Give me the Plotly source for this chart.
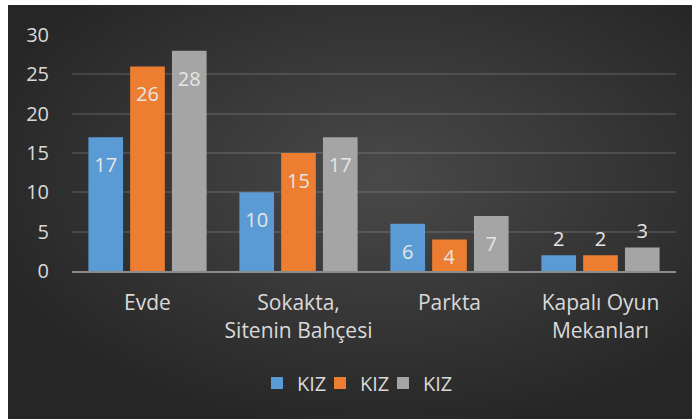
import plotly.graph_objects as go

categories = ["Evde", "Sokakta,<br>Sitenin Bahçesi", "Parkta", "Kapalı Oyun<br>Mekanları"]
series_names = ["KIZ", "KIZ", "KIZ"]
series_a = [17, 10, 6, 2]
series_b = [26, 15, 4, 2]
series_c = [28, 17, 7, 3]
colors = ["#5b9bd5", "#ed7d31", "#a5a5a5"]
y_ticks = [0, 5, 10, 15, 20, 25, 30]

FONT = "Open Sans"
FS = 20
TXT = "#d9d9d9"
LBL = "#e6e6e6"

bg_svg = (
    "data:image/svg+xml;utf8,"
    "<svg xmlns='http://www.w3.org/2000/svg' width='684' height='414' viewBox='0 0 684 414' preserveAspectRatio='none'>"
    "<defs><radialGradient id='g' cx='0.55' cy='0.42' r='0.62' gradientUnits='objectBoundingBox'>"
    "<stop offset='0' stop-color='%23494949'/><stop offset='1' stop-color='%23262626'/>"
    "</radialGradient></defs>"
    "<rect width='684' height='414' fill='url(%23g)'/></svg>"
)


def label_style(vals):
    # tall bars: label a bit below the top; short bars: label at/above the top
    tmpl = ["<span style='font-size:6px'> </span><br>%{y}" if v >= 5 else "%{y}" for v in vals]
    pos = ["inside" if v >= 4 else "outside" for v in vals]
    return tmpl, pos


fig = go.Figure()
for name, vals, col in zip(series_names, [series_a, series_b, series_c], colors):
    tmpl, pos = label_style(vals)
    fig.add_trace(go.Bar(
        x=categories, y=vals, name=name,
        marker=dict(color=col, line=dict(width=0)),
        texttemplate=tmpl,
        textposition=pos,
        insidetextanchor="end",
        constraintext="none",
        textangle=0,
        textfont=dict(family=FONT, size=FS, color=LBL),
        outsidetextfont=dict(family=FONT, size=FS, color=LBL),
        insidetextfont=dict(family=FONT, size=FS, color=LBL),
        cliponaxis=False,
    ))

# invisible spacer entry so the last legend label is not clipped
fig.add_trace(go.Scatter(
    x=[None], y=[None], mode="markers", name=" ",
    marker=dict(color="rgba(0,0,0,0)", size=1),
    hoverinfo="skip",
))

L, R, T, B = 72, 16, 35, 148
W, H = 692, 419
pw, ph = W - L - R, H - T - B

fig.update_layout(
    width=W, height=H,
    margin=dict(l=L, r=R, t=T, b=B, pad=0),
    paper_bgcolor="white",
    plot_bgcolor="rgba(0,0,0,0)",
    barmode="group",
    bargap=0.17,
    bargroupgap=0.17,
    font=dict(family=FONT, size=FS, color=TXT),
    showlegend=True,
    legend=dict(
        orientation="h",
        x=(257 - L) / pw, xanchor="left",
        y=-(383 - (T + ph)) / ph, yanchor="middle",
        font=dict(family=FONT, size=FS, color=TXT),
        bgcolor="rgba(0,0,0,0)",
        entrywidth=18, entrywidthmode="pixels",
        tracegroupgap=0,
    ),
    images=[dict(
        source=bg_svg, xref="paper", yref="paper",
        x=(8 - L) / pw, y=1 + (T - 5) / ph,
        sizex=(W - 8) / pw, sizey=(H - 5) / ph,
        xanchor="left", yanchor="top",
        sizing="stretch", layer="below",
    )],
    xaxis=dict(
        showgrid=False, showline=True, linecolor="#8c8c8c", linewidth=2,
        ticks="", ticklabelstandoff=12,
        tickfont=dict(family=FONT, size=21, color=TXT),
        zeroline=False,
    ),
    yaxis=dict(
        range=[0, 30], tickvals=y_ticks,
        showgrid=True, gridcolor="rgba(255,255,255,0.12)", gridwidth=2,
        zeroline=False, showline=False, ticks="",
        ticklabelstandoff=22,
        tickfont=dict(family=FONT, size=FS, color=TXT),
    ),
)

fig.write_html(
    "out.html",
    config={"displayModeBar": False},
    post_script="document.body.style.margin='0';document.body.style.overflow='hidden';",
)
